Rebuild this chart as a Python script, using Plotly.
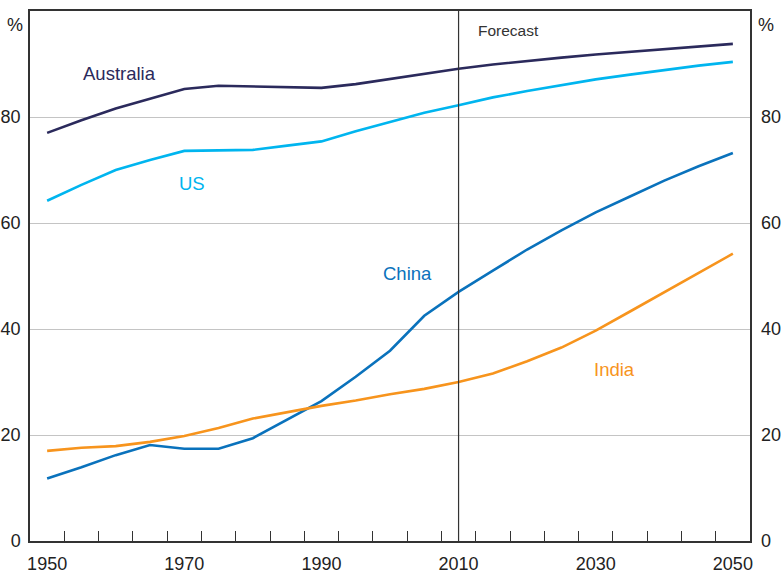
import plotly.graph_objects as go

years = list(range(1950, 2055, 5))
australia = [77.0, 79.4, 81.6, 83.5, 85.3, 85.9, 85.8, 85.6, 85.5, 86.2, 87.2, 88.2, 89.1, 89.9, 90.6, 91.2, 91.8, 92.3, 92.8, 93.3, 93.8]
us = [64.2, 67.2, 70.0, 71.9, 73.6, 73.7, 73.8, 74.6, 75.4, 77.3, 79.1, 80.8, 82.2, 83.7, 84.9, 86.0, 87.1, 88.0, 88.9, 89.7, 90.4]
china = [11.8, 13.9, 16.2, 18.1, 17.4, 17.4, 19.4, 22.9, 26.4, 31.0, 35.9, 42.5, 47.0, 51.0, 55.0, 58.6, 62.0, 65.0, 68.0, 70.7, 73.2]
india = [17.0, 17.6, 17.9, 18.7, 19.8, 21.3, 23.1, 24.3, 25.5, 26.5, 27.7, 28.7, 30.0, 31.6, 33.9, 36.5, 39.7, 43.3, 46.9, 50.6, 54.2]

x_ticks = [1950, 1970, 1990, 2010, 2030, 2050]
x_minor_ticks = [y + 2.5 for y in years[:-1]]
y_ticks = [0, 20, 40, 60, 80]
forecast_year = 2010

series = [
    ("Australia", australia, "#2b2a5c", 1960.6, 88.3),
    ("US", us, "#00b5ef", 1971.1, 67.5),
    ("China", china, "#0a72bc", 2002.5, 50.4),
    ("India", india, "#f7941d", 2032.7, 32.3),
]

FONT = "Liberation Sans, Arial, sans-serif"
fig = go.Figure()
for name, vals, color, lx, ly in series:
    fig.add_trace(go.Scatter(x=years, y=vals, mode="lines", name=name,
                             line=dict(color=color, width=2.6), showlegend=False))
    fig.add_annotation(x=lx, y=ly, text=name, showarrow=False, xref="x", yref="y",
                       font=dict(color=color, size=18.5, family=FONT))

# invisible traces for right axis and tick-mark axis
fig.add_trace(go.Scatter(x=[years[0]], y=[0], yaxis="y2", mode="markers",
                         marker=dict(opacity=0), showlegend=False, hoverinfo="skip"))
fig.add_trace(go.Scatter(x=[years[0]], y=[0], xaxis="x2", mode="markers",
                         marker=dict(opacity=0), showlegend=False, hoverinfo="skip"))

fig.add_shape(type="line", x0=forecast_year, x1=forecast_year, y0=0, y1=100,
              xref="x", yref="y", line=dict(color="#333333", width=1.2))
fig.add_annotation(x=forecast_year + 2.6, y=96.3, text="Forecast", showarrow=False,
                   xanchor="left", font=dict(color="#333333", size=15.5, family=FONT))
fig.add_annotation(x=0, y=1, xref="paper", yref="paper", text="%", showarrow=False,
                   xanchor="right", yanchor="top", xshift=-5, yshift=-2,
                   font=dict(color="#222222", size=18, family=FONT))
fig.add_annotation(x=1, y=1, xref="paper", yref="paper", text="%", showarrow=False,
                   xanchor="left", yanchor="top", xshift=6, yshift=-2,
                   font=dict(color="#222222", size=18, family=FONT))

fig.update_layout(
    width=783, height=578,
    margin=dict(l=30, r=33, t=11, b=37),
    paper_bgcolor="white", plot_bgcolor="white",
    font=dict(family=FONT, size=18, color="#222222"),
    xaxis=dict(range=[1947.5, 2052.5], tickvals=x_ticks, ticks="", showgrid=False,
               showline=True, linecolor="#333333", linewidth=1.5, mirror=True,
               zeroline=False, ticklabelstandoff=6, automargin=False),
    xaxis2=dict(range=[1947.5, 2052.5], overlaying="x", anchor="y", side="bottom",
                tickvals=x_minor_ticks, showticklabels=False, ticks="inside",
                ticklen=10, tickcolor="#333333", tickwidth=1, showgrid=False,
                zeroline=False, showline=False, automargin=False),
    yaxis=dict(range=[0, 100], tickvals=y_ticks, showgrid=True, gridcolor="#c4c4c4",
               gridwidth=1, showline=True, linecolor="#333333", linewidth=1.5,
               mirror=True, zeroline=False, ticks="", ticklabelstandoff=4,
               automargin=False),
    yaxis2=dict(range=[0, 100], tickvals=y_ticks, overlaying="y", side="right",
                showgrid=False, zeroline=False, showline=False, ticks="",
                ticklabelstandoff=10, automargin=False),
)

fig.write_html("out.html", config={"displayModeBar": False},
               post_script="document.body.style.margin='0';document.body.style.overflow='hidden';")
